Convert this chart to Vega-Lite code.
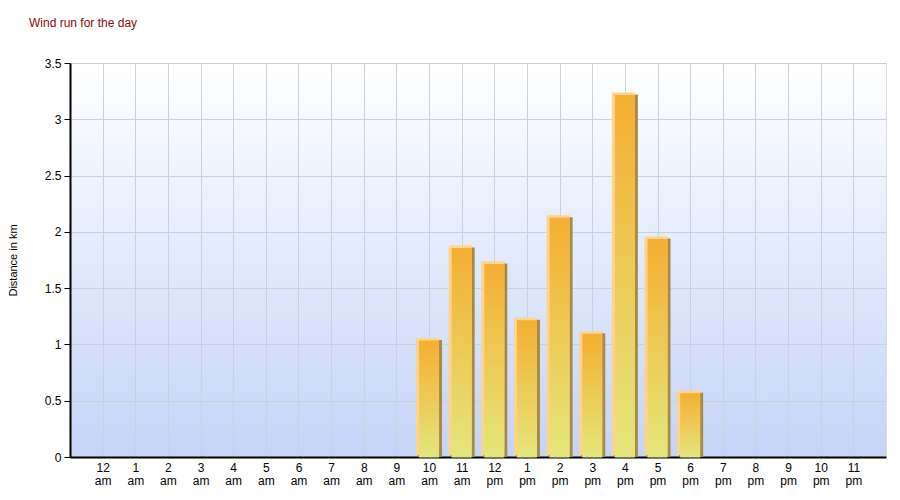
{
  "$schema": "https://vega.github.io/schema/vega-lite/v6.json",
  "width": 816,
  "height": 394,
  "autosize": {"type": "none"},
  "padding": {"left": 70, "top": 63, "right": 14, "bottom": 43},
  "background": "white",
  "title": {
    "text": "Wind run for the day",
    "anchor": "start",
    "frame": "group",
    "dx": -41,
    "offset": 27,
    "fontSize": 12,
    "fontWeight": "normal",
    "font": "Liberation Sans",
    "color": "#8b0a0a"
  },
  "config": {
    "view": {
      "stroke": "#dcdce0",
      "fill": {
        "gradient": "linear",
        "x1": 0, "y1": 0, "x2": 0, "y2": 1,
        "stops": [
          {"offset": 0, "color": "#ffffff"},
          {"offset": 1, "color": "#c4d4f8"}
        ]
      }
    },
    "axis": {
      "labelFont": "Liberation Sans",
      "titleFont": "Liberation Sans",
      "labelFontSize": 12,
      "labelColor": "#000000",
      "gridColor": "#ccd0da",
      "gridWidth": 1,
      "domainColor": "#000000",
      "tickColor": "#000000"
    }
  },
  "data": {
    "values": [
      {"hour": 0, "km": 0}, {"hour": 1, "km": 0}, {"hour": 2, "km": 0},
      {"hour": 3, "km": 0}, {"hour": 4, "km": 0}, {"hour": 5, "km": 0},
      {"hour": 6, "km": 0}, {"hour": 7, "km": 0}, {"hour": 8, "km": 0},
      {"hour": 9, "km": 0}, {"hour": 10, "km": 1.04}, {"hour": 11, "km": 1.86},
      {"hour": 12, "km": 1.72}, {"hour": 13, "km": 1.22}, {"hour": 14, "km": 2.13},
      {"hour": 15, "km": 1.1}, {"hour": 16, "km": 3.22}, {"hour": 17, "km": 1.94},
      {"hour": 18, "km": 0.57}, {"hour": 19, "km": 0}, {"hour": 20, "km": 0},
      {"hour": 21, "km": 0}, {"hour": 22, "km": 0}, {"hour": 23, "km": 0}
    ]
  },
  "transform": [{"filter": "datum.km > 0"}],
  "encoding": {
    "x": {
      "field": "hour",
      "type": "quantitative",
      "scale": {"domain": [-1, 24], "nice": false, "zero": false, "padding": 0},
      "axis": {
        "title": null,
        "values": [0,1,2,3,4,5,6,7,8,9,10,11,12,13,14,15,16,17,18,19,20,21,22,23],
        "labelExpr": "[(datum.value % 12 == 0 ? '12' : toString(datum.value % 12)), (datum.value < 12 ? 'am' : 'pm')]",
        "ticks": false,
        "labelPadding": 5,
        "labelLineHeight": 13,
        "domainWidth": 2,
        "labelFlush": false,
        "labelOverlap": false
      }
    },
    "y": {
      "field": "km",
      "type": "quantitative",
      "scale": {"domain": [0, 3.5], "nice": false},
      "axis": {
        "title": "Distance in km",
        "titleFontSize": 11,
        "titleFontWeight": "normal",
        "titleColor": "#000000",
        "titleX": -52,
        "values": [0, 0.5, 1, 1.5, 2, 2.5, 3, 3.5],
        "format": "~g",
        "domainWidth": 2,
        "tickSize": 6,
        "labelPadding": 3
      }
    }
  },
  "layer": [
    {
      "mark": {"type": "bar", "size": 24, "xOffset": 1, "yOffset": 0, "color": "#a58c45"}
    },
    {
      "mark": {"type": "bar", "size": 23, "xOffset": -1.5, "yOffset": -2, "color": "#fcd48c"}
    },
    {
      "mark": {
        "type": "bar",
        "size": 20,
        "xOffset": 0,
        "yOffset": 0.5,
        "color": {
          "gradient": "linear",
          "x1": 0, "y1": 0, "x2": 0, "y2": 1,
          "stops": [
            {"offset": 0, "color": "#f6ae33"},
            {"offset": 1, "color": "#e4e67c"}
          ]
        }
      }
    }
  ]
}
